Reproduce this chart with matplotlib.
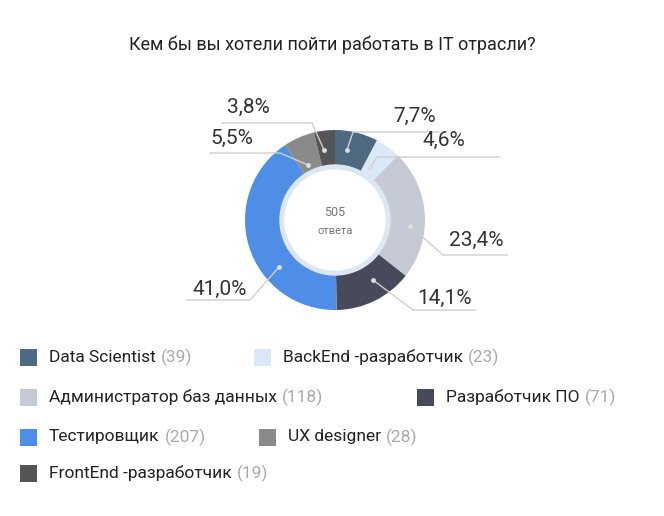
import matplotlib
matplotlib.use("Agg")
import matplotlib.pyplot as plt

plt.rcParams['font.family'] = ['Roboto', 'DejaVu Sans']

# data
labels = ['Data Scientist', 'BackEnd -разработчик', 'Администратор баз данных',
          'Разработчик ПО', 'Тестировщик', 'UX designer', 'FrontEnd -разработчик']
counts = [39, 23, 118, 71, 207, 28, 19]
pct_labels = ['7,7%', '4,6%', '23,4%', '14,1%', '41,0%', '5,5%', '3,8%']
colors = ['#4d6a80', '#dbe8f8', '#c5cad6', '#474a5a', '#4f8ee6', '#8a8a8a', '#555555']
total = sum(counts)

fig = plt.figure(figsize=(6.64, 5.16), dpi=100)
ax = fig.add_axes([0, 0, 1, 1])

cx, cy, r = 335, 220, 90
ax.pie(counts, colors=colors, center=(cx, cy), radius=r, startangle=-90,
       counterclock=True, wedgeprops=dict(width=37, edgecolor='none'))
# pie resets limits, so set the pixel frame afterwards
ax.set_xlim(0, 664)
ax.set_ylim(516, 0)
ax.set_aspect('equal')
ax.axis('off')

ax.add_patch(plt.Circle((cx, cy), 55, color='#dde6f3', zorder=3))
ax.add_patch(plt.Circle((cx, cy), 50, color='white', zorder=4))
ax.text(cx, cy - 8, str(total), ha='center', va='center', fontsize=9, color='#777777', zorder=5)
ax.text(cx, cy + 11, 'ответа', ha='center', va='center', fontsize=8, color='#777777', zorder=5)

# leader lines: dot, elbow, line end, text anchor (pixels)
leaders = [
    ((347, 150), (353, 132), (440, 132), (415, 116)),
    ((370, 168), (377, 157), (500, 157), (444, 140)),
    ((410, 226), (443, 255), (507, 255), (476, 240)),
    ((373, 280), (413, 310), (475, 310), (445, 298)),
    ((279, 267), (250, 300), (187, 300), (220, 289)),
    ((308, 165), (280, 153), (210, 153), (232, 138)),
    ((324, 150), (312, 123), (222, 123), (248, 107)),
]
for (dot, elbow, end, txt), p in zip(leaders, pct_labels):
    ax.plot([dot[0], elbow[0], end[0]], [dot[1], elbow[1], end[1]],
            color='#cfcfcf', lw=1, zorder=6)
    ax.plot(*dot, 'o', ms=2.5, color='#dddddd', zorder=7)
    ax.text(*txt, p, ha='center', va='center', fontsize=15, color='#333333', zorder=7)

ax.text(332, 45, 'Кем бы вы хотели пойти работать в IT отрасли?', ha='center', va='center',
        fontsize=13, color='#222222')

# legend
legend_pos = [(28, 357), (262, 357), (28, 397), (425, 397), (28, 437), (267, 437), (28, 473)]
for (x, y), lab, n, c in zip(legend_pos, labels, counts, colors):
    ax.add_patch(plt.Rectangle((x - 8, y - 8), 17, 17, color=c, ec='none'))
    t = ax.text(x + 21, y, lab, ha='left', va='center', fontsize=12.5, color='#222222')
    fig.canvas.draw()
    bb = t.get_window_extent()
    ax.text(bb.x1 + 5, y, f'({n})', ha='left', va='center', fontsize=12.5, color='#aaaaaa')

fig.savefig('out.png', dpi=100)
